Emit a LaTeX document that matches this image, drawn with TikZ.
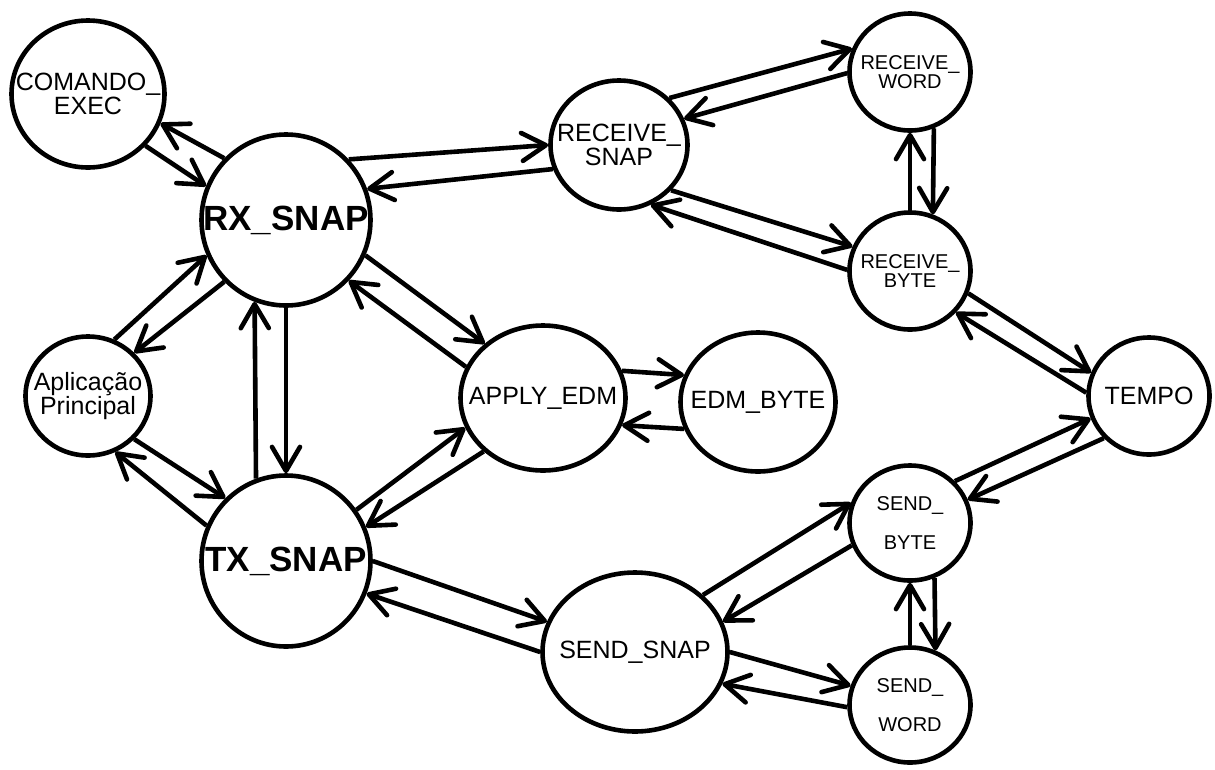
\documentclass[tikz,border=0pt]{standalone}
\usepackage{fontspec}
\setmainfont{Liberation Sans}
\usetikzlibrary{shapes.geometric,arrows.meta}
\begin{document}
\begin{tikzpicture}[x=1pt,y=-1pt,
  st/.style={draw, ellipse, line width=4.6pt, inner sep=0pt},
  lab/.style={font=\fontsize{25}{24}\selectfont, align=center, inner sep=0pt},
  labb/.style={font=\bfseries\fontsize{35}{35}\selectfont, align=center, inner sep=0pt},
  labs/.style={font=\fontsize{20}{19.5}\selectfont, align=center, inner sep=0pt},
  labw/.style={font=\fontsize{20}{39}\selectfont, align=center, inner sep=0pt},
  ar/.style={-{Straight Barb[length=24pt,width=28pt,round]}, line width=4.6pt},
]
\useasboundingbox (0,0) rectangle (1215,769);

\node[st, minimum width=153pt, minimum height=147pt, label={[lab]center:{COMANDO\_\\EXEC}}] (ce) at (88,94) {};
\node[st, minimum width=169pt, minimum height=171pt, label={[labb]center:{RX\_SNAP}}] (rx) at (286,220) {};
\node[st, minimum width=137pt, minimum height=129pt, label={[lab]center:{RECEIVE\_\\SNAP}}] (rs) at (619,145) {};
\node[st, minimum width=121pt, minimum height=117pt, label={[labs]center:{RECEIVE\_\\WORD}}] (rw) at (910,72) {};
\node[st, minimum width=121pt, minimum height=117pt, label={[labs]center:{RECEIVE\_\\BYTE}}] (rb) at (910,271) {};
\node[st, minimum width=125pt, minimum height=119pt, label={[lab]center:{Aplicação\\Principal}}] (ap) at (88,396) {};
\node[st, minimum width=169pt, minimum height=171pt, label={[labb]center:{TX\_SNAP}}] (tx) at (286,561) {};
\node[st, minimum width=165pt, minimum height=145pt, label={[lab]center:{APPLY\_EDM}}] (ae) at (543,398) {};
\node[st, minimum width=155pt, minimum height=139pt, label={[lab]center:{EDM\_BYTE}}] (eb) at (758,402) {};
\node[st, minimum width=121pt, minimum height=117pt, label={[lab]center:{TEMPO}}] (te) at (1149,396) {};
\node[st, minimum width=121pt, minimum height=115pt, label={[labw]center:{SEND\_\\BYTE}}] (sb) at (910,523) {};
\node[st, minimum width=121pt, minimum height=115pt, label={[labw]center:{SEND\_\\WORD}}] (sw) at (910,705) {};
\node[st, minimum width=185pt, minimum height=159pt, label={[lab]center:{SEND\_SNAP}}] (ss) at (635,652) {};

\draw[ar] (ce.-42.5) -- (rx.157);
\draw[ar] (rx.135.5) -- (ce.-22);
\draw[ar] (rx.44) -- (rs.180);
\draw[ar] (rs.200.7) -- (rx.21.4);
\draw[ar] (rs.43.3) -- (rw.158.8);
\draw[ar] (rw.181.8) -- (rs.22.1);
\draw[ar] (rb.179.1) -- (rs.-62);
\draw[ar] (rs.-41.6) -- (rb.157.2);
\draw[ar] (rb.90) -- (rw.-90);
\draw[ar] (rw.-67.5) -- (rb.68.5);
\draw[ar] (rb.-21.2) -- (te.158.5);
\draw[ar] (te.177.3) -- (rb.-42.6);
\draw[ar] (sb.43.2) -- (te.201.5);
\draw[ar] (te.223.7) -- (sb.22);
\draw[ar] (sw.90) -- (sb.-90);
\draw[ar] (sb.-66.3) -- (sw.65.9);
\draw[ar] (ss.40.9) -- (sb.161.6);
\draw[ar] (sb.201.8) -- (ss.19.2);
\draw[ar] (ss.-0.6) -- (sw.162.1);
\draw[ar] (sw.182.6) -- (ss.-20.1);
\draw[ar] (tx.0) -- (ss.161.6);
\draw[ar] (ss.180.6) -- (tx.-22);
\draw[ar] (tx.36.4) -- (ae.201.6);
\draw[ar] (ae.222) -- (tx.23.2);
\draw[ar] (rx.-24.3) -- (ae.137.4);
\draw[ar] (ae.158.9) -- (rx.-44.6);
\draw[ar] (ae.19.9) -- (eb.160.7);
\draw[ar] (eb.200.2) -- (ae.-19.7);
\draw[ar] (rx.-90) -- (tx.90);
\draw[ar] (tx.110.9) -- (rx.249.8);
\draw[ar] (ap.65) -- (rx.204);
\draw[ar] (rx.225) -- (ap.43.2);
\draw[ar] (ap.-43.1) -- (tx.134.6);
\draw[ar] (tx.156) -- (ap.-64.7);
\end{tikzpicture}
\end{document}
